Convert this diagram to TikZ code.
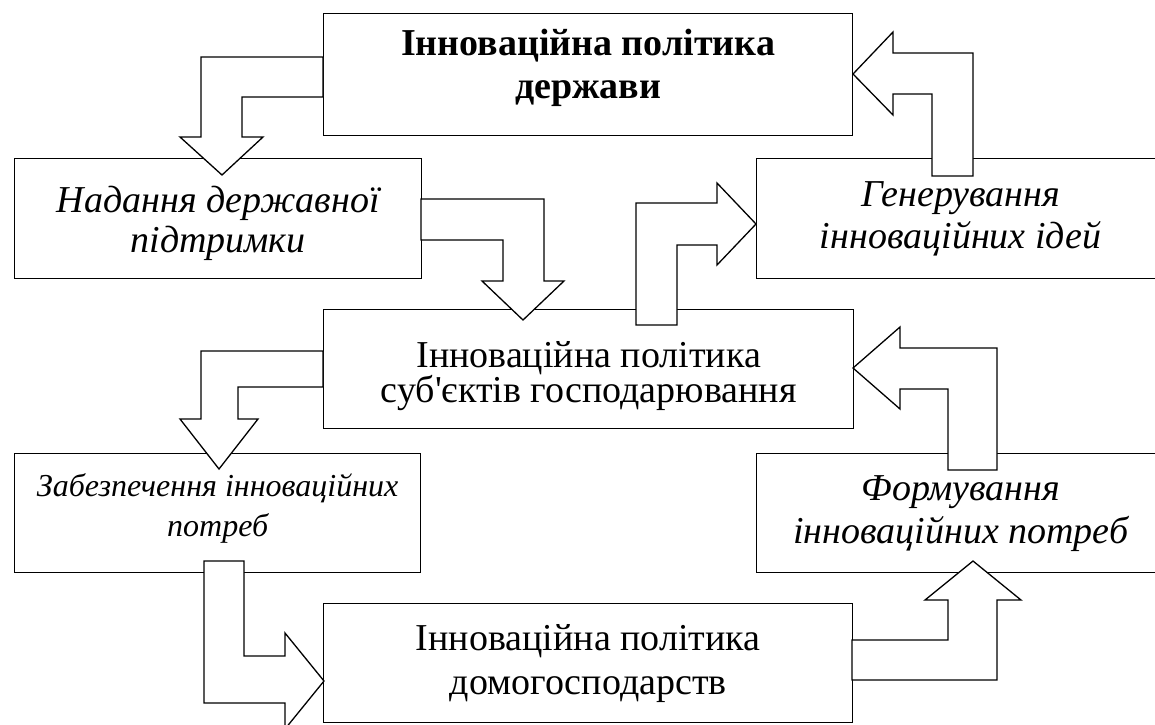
\documentclass[tikz,border=0pt]{standalone}
\usepackage{fontspec}
\setmainfont{Liberation Serif}
% same face without TeX ligatures, for a straight apostrophe
\newfontfamily\plainserif{Liberation Serif}
\begin{document}
\begin{tikzpicture}[x=1pt,y=-1pt,
  box/.style={draw,fill=white,line width=1.3pt,anchor=north west,inner sep=0pt,
              align=center,font=\fontsize{38}{42}\selectfont},
  label/.style={align=center,inner sep=0pt},
  blockarrow/.style={draw,fill=white,line width=1.3pt,line join=miter}]
\useasboundingbox (0,0) rectangle (1155,724);
\begin{scope}
\clip (0,0) rectangle (1155,724);
% boxes
\node[box,minimum width=529pt,minimum height=122pt] (gov) at (323,13) {};
\node[label,font=\fontsize{38}{43}\selectfont\bfseries]
  (govtext) at ([yshift=7pt]gov.center) {Інноваційна політика\\держави};
\node[box,minimum width=407pt,minimum height=120pt] (support) at (14,158) {};
\node[label,font=\fontsize{38}{40}\selectfont\itshape]
  (supporttext) at ([yshift=-5pt]support.center) {Надання державної\\підтримки};
\node[box,minimum width=408pt,minimum height=120pt,font=\fontsize{38}{42}\selectfont\itshape]
  (ideas) at (756,158) {Генерування\\інноваційних ідей};
\node[box,minimum width=530pt,minimum height=119pt] (firms) at (323,309) {};
\node[label,font=\fontsize{38}{35}\selectfont]
  (firmstext) at ([yshift=-7pt]firms.center) {Інноваційна політика\\суб{\plainserif'}єктів господарювання};
\node[box,minimum width=406pt,minimum height=119pt] (supply) at (14,453) {};
\node[label,font=\fontsize{32}{40}\selectfont\itshape]
  (supplytext) at ([yshift=5pt]supply.center) {Забезпечення інноваційних\\потреб};
\node[box,minimum width=408pt,minimum height=119pt,font=\fontsize{38}{43}\selectfont\itshape]
  (needs) at (756,453) {Формування\\інноваційних потреб};
\node[box,minimum width=529pt,minimum height=119pt,font=\fontsize{38}{44}\selectfont]
  (homes) at (323,603) {Інноваційна політика\\домогосподарств};
% bent block arrows
\draw[blockarrow] (323,57) -- (201,57) -- (201,137) -- (180,137) -- (222,175)
  -- (263,137) -- (242,137) -- (242,97) -- (323,97) -- cycle;
\draw[blockarrow] (421,199) -- (544,199) -- (544,281) -- (564,281) -- (523,320)
  -- (482,281) -- (503,281) -- (503,240) -- (421,240) -- cycle;
\draw[blockarrow] (636,325) -- (636,203) -- (717,203) -- (717,183) -- (756,224)
  -- (717,265) -- (717,245) -- (677,245) -- (677,325) -- cycle;
\draw[blockarrow] (973,176) -- (973,53) -- (893,53) -- (893,32) -- (853,74)
  -- (893,115) -- (893,94) -- (932,94) -- (932,176) -- cycle;
\draw[blockarrow] (323,351) -- (201,351) -- (201,419) -- (180,419) -- (219,469)
  -- (258,419) -- (238,419) -- (238,387) -- (323,387) -- cycle;
\draw[blockarrow] (204,561) -- (204,703) -- (285,703) -- (285,729) -- (324,681)
  -- (285,633) -- (285,656) -- (244,656) -- (244,561) -- cycle;
\draw[blockarrow] (852,680) -- (997,680) -- (997,600) -- (1021,600) -- (973,561)
  -- (925,600) -- (948,600) -- (948,640) -- (852,640) -- cycle;
\draw[blockarrow] (948,470) -- (948,389) -- (900,389) -- (900,409) -- (853,368)
  -- (900,327) -- (900,348) -- (997,348) -- (997,470) -- cycle;
\end{scope}
\end{tikzpicture}
\end{document}
